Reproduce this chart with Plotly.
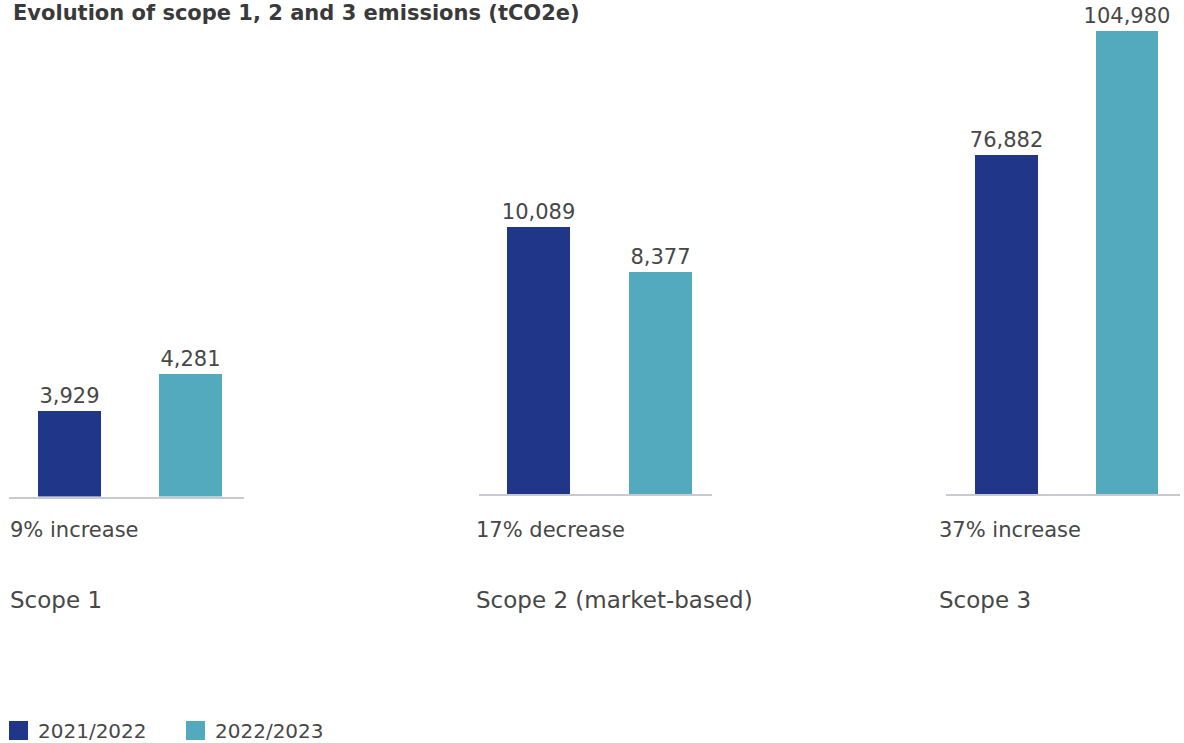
import plotly.graph_objects as go

# ---- data ----
scopes = ["Scope 1", "Scope 2 (market-based)", "Scope 3"]
periods = ["2021/2022", "2022/2023"]
values_2021_2022 = [3929, 10089, 76882]
values_2022_2023 = [4281, 8377, 104980]
changes = ["9% increase", "17% decrease", "37% increase"]
title_text = "Evolution of scope 1, 2 and 3 emissions (tCO2e)"

# ---- style ----
W, H = 1184, 743
C1, C2 = "#1f3689", "#53aabf"
TXT = "#474747"
NUM_FONT = "DejaVu Sans"
LBL_FONT = "DejaVu Sans"

def px(x):
    return x / W

def py(y):
    return 1 - y / H

# panel geometry (pixels)
panels = [
    dict(x0=9, x1=244, base=496.5, top=373.7, yr=[3127, 4281], xr=[-0.5, 1.44], lx=8),
    dict(x0=479, x1=712, base=494.3, top=227.0, yr=[0, 10089], xr=[-0.49, 1.42], lx=474),
    dict(x0=946, x1=1180, base=494.3, top=31.0, yr=[0, 104980], xr=[-0.5, 1.44], lx=937),
]

fig = go.Figure()
layout = dict(
    width=W, height=H,
    margin=dict(l=0, r=0, t=0, b=0),
    paper_bgcolor="white", plot_bgcolor="white",
    showlegend=False,
    bargap=0,
)

annotations = []
shapes = []
for i, p in enumerate(panels):
    n = "" if i == 0 else str(i + 1)
    fig.add_trace(go.Bar(
        x=periods,
        y=[values_2021_2022[i], values_2022_2023[i]],
        marker=dict(color=[C1, C2], line=dict(width=0)),
        width=0.52,
        texttemplate="%{y:,}",
        textposition="outside",
        constraintext="none",
        textfont=dict(family=NUM_FONT, size=21, color=TXT),
        cliponaxis=False,
        xaxis="x" + n, yaxis="y" + n,
        hoverinfo="skip",
    ))
    layout["xaxis" + n] = dict(
        domain=[px(p["x0"]), px(p["x1"])],
        anchor="y" + n,
        type="category",
        range=p["xr"],
        showticklabels=False, ticks="",
        showgrid=False, zeroline=False,
        showline=True, linecolor="#c9c9d1", linewidth=2,
        fixedrange=True,
    )
    layout["yaxis" + n] = dict(
        domain=[py(p["base"]), py(p["top"])],
        anchor="x" + n,
        range=p["yr"],
        visible=False,
        showgrid=False, zeroline=False,
        fixedrange=True,
    )
    annotations.append(dict(
        text=changes[i], xref="paper", yref="paper",
        x=px(p["lx"]), y=py(530), xanchor="left", yanchor="middle",
        showarrow=False, font=dict(family=LBL_FONT, size=21, color=TXT),
    ))
    annotations.append(dict(
        text=scopes[i], xref="paper", yref="paper",
        x=px(p["lx"]), y=py(600), xanchor="left", yanchor="middle",
        showarrow=False, font=dict(family=LBL_FONT, size=23, color=TXT),
    ))

# title
annotations.append(dict(
    text="<b>" + title_text + "</b>", xref="paper", yref="paper",
    x=px(12), y=1, xanchor="left", yanchor="top", borderpad=0,
    showarrow=False, font=dict(family="DejaVu Sans", size=21, color="#3a3a3a"),
))

# legend (manual)
legend_items = [(periods[0], C1, 9), (periods[1], C2, 186)]
for label, col, lx in legend_items:
    shapes.append(dict(
        type="rect", xref="paper", yref="paper",
        x0=px(lx), x1=px(lx + 19), y0=py(740), y1=py(721),
        fillcolor=col, line=dict(width=0),
    ))
    annotations.append(dict(
        text=label, xref="paper", yref="paper",
        x=px(lx + 27), y=py(731), xanchor="left", yanchor="middle",
        showarrow=False, font=dict(family=NUM_FONT, size=20, color=TXT),
    ))

layout["annotations"] = annotations
layout["shapes"] = shapes
fig.update_layout(**layout)
fig.write_html("out.html")
